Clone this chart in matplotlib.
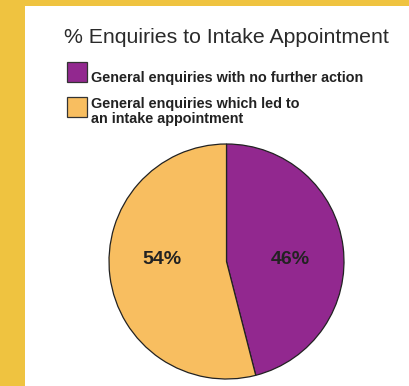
import matplotlib
matplotlib.use("Agg")
import matplotlib.pyplot as plt
from matplotlib.patches import Rectangle

title = "% Enquiries to Intake Appointment"
categories = ["General enquiries with no further action",
              "General enquiries which led to\nan intake appointment"]
values = [46, 54]
colors = ["#92288F", "#F8BE60"]

W, H = 409, 386
fig = plt.figure(figsize=(W / 100, H / 100), dpi=100)
fig.patch.set_facecolor("#EFC340")
plt.rcParams['font.family'] = ['Liberation Sans', 'DejaVu Sans']

# white panel
fig.add_artist(Rectangle((25 / W, 0), 1, (H - 6) / H, transform=fig.transFigure,
                         facecolor="white", edgecolor="none", zorder=0))

# pie axes
cx, cy, r = 226.5, 261.5, 117.5
m = 1.01
ax = fig.add_axes([(cx - r * m) / W, (H - cy - r * m) / H, 2 * r * m / W, 2 * r * m / H])
wedges, texts, autotexts = ax.pie(values, colors=colors, startangle=90, counterclock=False,
                                  autopct='%.0f%%', pctdistance=0.55,
                                  wedgeprops=dict(edgecolor="#222222", linewidth=0.9),
                                  textprops=dict(fontsize=14, fontweight='bold', color="#222222"))
for t in autotexts:
    t.set_y(0.02)
ax.set_xlim(-m, m)
ax.set_ylim(-m, m)
ax.set_aspect('equal')
ax.axis('off')

fig.text(64 / W, 1 - 43 / H, title, fontsize=15.3, color="#2a2a2a", ha='left', va='baseline')

# legend
boxes = [(67, 62), (67, 97)]
text_pos = [(91, 82), (91, 123)]
for (bx, by), (tx, ty), lab, col in zip(boxes, text_pos, categories, colors):
    fig.add_artist(Rectangle((bx / W, 1 - (by + 20) / H), 20 / W, 20 / H, transform=fig.transFigure,
                             facecolor=col, edgecolor="#333333", linewidth=0.9))
    fig.text(tx / W, 1 - ty / H, lab, fontsize=10.35, fontweight='bold', color="#222222",
             ha='left', va='baseline', linespacing=1.1)

fig.savefig("out.png", dpi=100, facecolor=fig.get_facecolor())
